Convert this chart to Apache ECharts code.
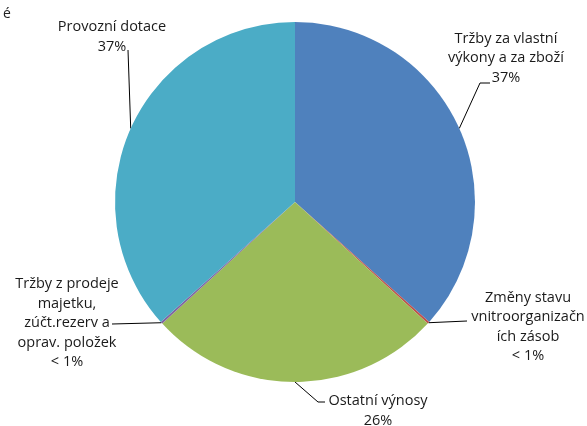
<!DOCTYPE html>
<html>
<head>
<meta charset="utf-8">
<script src="https://cdn.jsdelivr.net/npm/echarts@6/dist/echarts.min.js"></script>
<style>html,body{margin:0;padding:0;background:#fff}#c{width:587px;height:426px}</style>
</head>
<body>
<div id="c"></div>
<script>
var categories = [
  'Tržby za vlastní\nvýkony a za zboží',
  'Změny stavu\nvnitroorganizačn\ních zásob',
  'Ostatní výnosy',
  'Tržby z prodeje\nmajetku,\nzúčt.rezerv a\noprav. položek',
  'Provozní dotace'
];
var values = [36.6, 0.2, 26.4, 0.2, 36.6];
var pctLabels = ['37%', '< 1%', '26%', '< 1%', '37%'];
var colors = ['#4F81BD', '#C0504D', '#9BBB59', '#8064A2', '#4BACC6'];
// label centres and leader-line bends (relative to the label centre)
var labelPos = [[506, 58], [528, 327], [378, 411], [67, 323], [112, 37]];
var lineBends = [[[-26, 25], [-16, 25]], [[-61, -6]], [[-60, -9], [-53, -9]], [[45, 1]], [[16, 13]]];

var chart = echarts.init(document.getElementById('c'));
chart.setOption({
  animation: false,
  title: { text: 'é', left: -2, top: 2, textStyle: { fontSize: 14, fontWeight: 'normal', color: '#222', fontFamily: 'Open Sans' } },
  series: [{
    type: 'pie',
    center: [295, 202],
    radius: [0, 180],
    startAngle: 90,
    clockwise: true,
    data: categories.map(function (c, i) {
      return { name: c, value: values[i], itemStyle: { color: colors[i] } };
    }),
    label: {
      show: true,
      formatter: function (p) { return p.name + '\n' + pctLabels[p.dataIndex]; },
      fontFamily: 'Open Sans',
      fontSize: 14.5,
      lineHeight: 19.5,
      color: '#1a1a1a',
      align: 'center',
      overflow: 'none'
    },
    labelLine: { show: true, length: 10, length2: 8, lineStyle: { color: '#000', width: 1 } },
    labelLayout: function (p) {
      var i = p.dataIndex;
      var pos = labelPos[i];
      var res = { x: pos[0], y: pos[1], align: 'center', verticalAlign: 'middle' };
      if (p.labelLinePoints && p.labelLinePoints.length) {
        var pts = [p.labelLinePoints[0].slice()];
        lineBends[i].forEach(function (b) { pts.push([pos[0] + b[0], pos[1] + b[1]]); });
        res.labelLinePoints = pts;
      }
      return res;
    },
    itemStyle: { borderWidth: 0 }
  }]
});
</script>
</body>
</html>
